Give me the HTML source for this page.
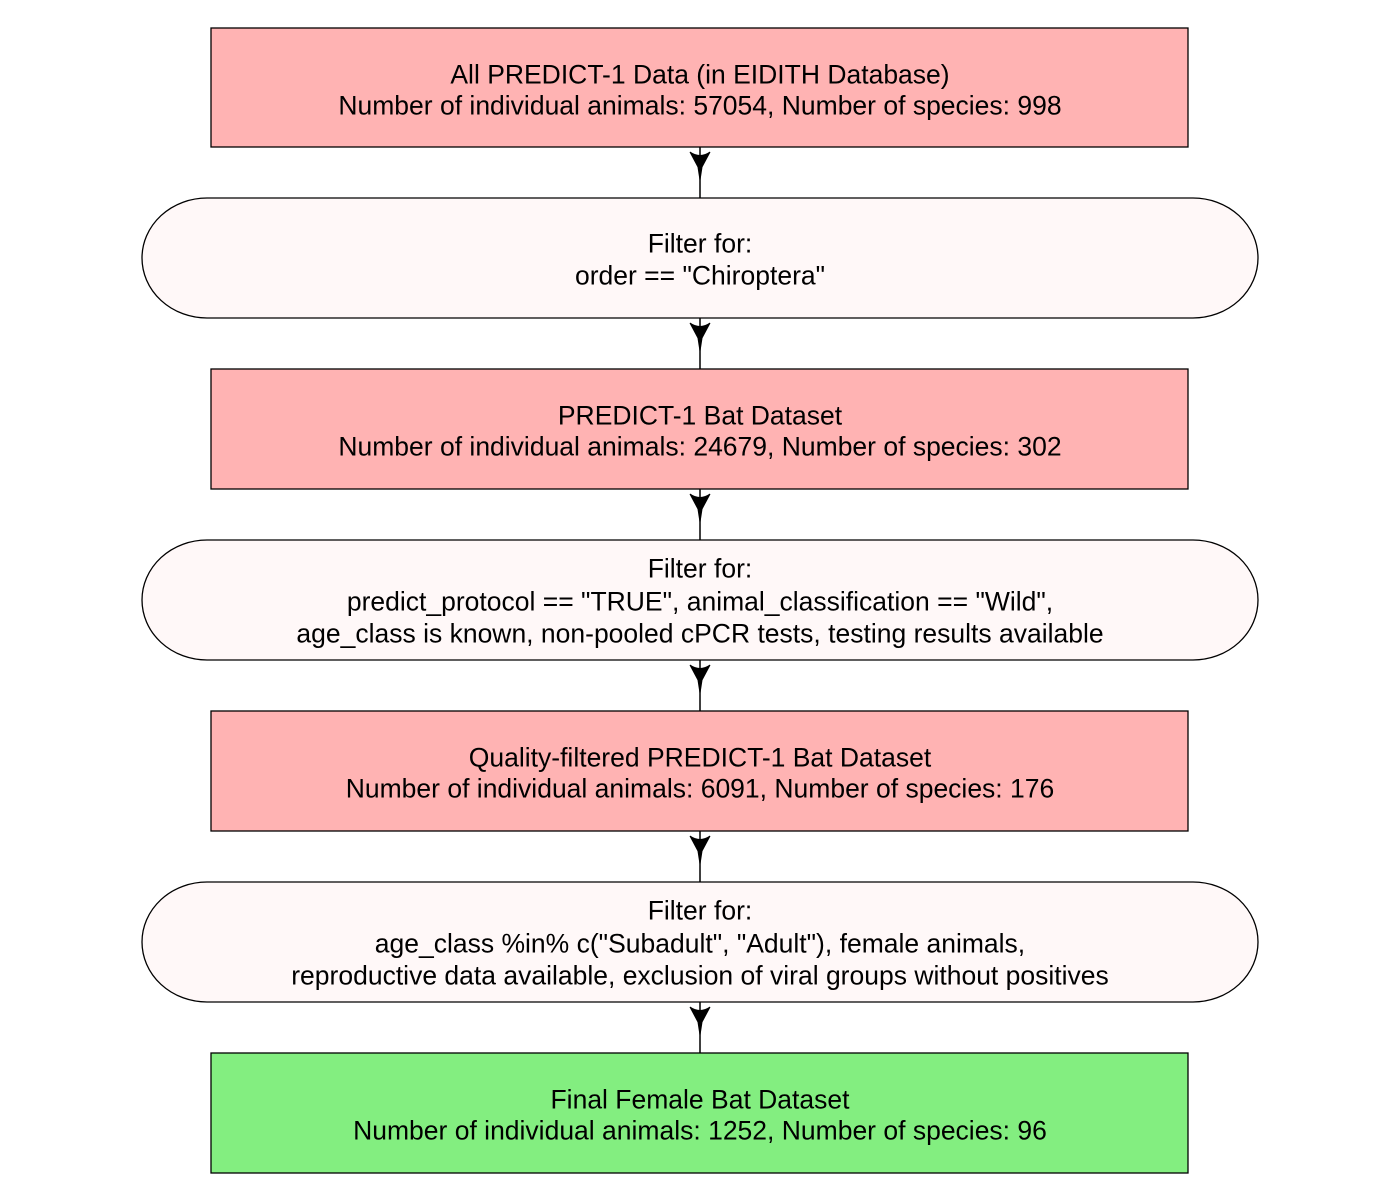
<!DOCTYPE html>
<html><head><meta charset="utf-8"><style>
html,body{margin:0;padding:0;background:#fff;}
svg{display:block;}
text{font-family:"Liberation Sans",Arial,sans-serif;font-size:26.5px;fill:#000;text-anchor:middle;}
</style></head><body>
<svg width="1400" height="1200" viewBox="0 0 1400 1200" xmlns="http://www.w3.org/2000/svg">
<defs>
<g id="arr">
<line x1="700" y1="0" x2="700" y2="51" stroke="#000" stroke-width="1.5"/>
<path d="M690,5 Q700,12 710,5 L702,20 L700,33 L698,20 Z" fill="#000" stroke="#000" stroke-width="1"/>
</g>
</defs>
<rect x="211" y="28" width="977" height="119" fill="#FFB3B3" stroke="#000" stroke-width="1.3"/>
<text x="700" y="83.5">All PREDICT-1 Data (in EIDITH Database)</text>
<text x="700" y="114.5">Number of individual animals: 57054, Number of species: 998</text>
<use href="#arr" y="147"/>
<rect x="142" y="198" width="1116" height="120" rx="65" ry="60" fill="#FFF8F8" stroke="#000" stroke-width="1.3"/>
<text x="700" y="252.5">Filter for:</text>
<text x="700" y="284.5">order == "Chiroptera"</text>
<use href="#arr" y="318"/>
<rect x="211" y="369" width="977" height="120" fill="#FFB3B3" stroke="#000" stroke-width="1.3"/>
<text x="700" y="424.5">PREDICT-1 Bat Dataset</text>
<text x="700" y="455.5">Number of individual animals: 24679, Number of species: 302</text>
<use href="#arr" y="489"/>
<rect x="142" y="540" width="1116" height="120" rx="65" ry="60" fill="#FFF8F8" stroke="#000" stroke-width="1.3"/>
<text x="700" y="577.5">Filter for:</text>
<text x="700" y="610.5">predict_protocol == "TRUE", animal_classification == "Wild",</text>
<text x="700" y="642.5">age_class is known, non-pooled cPCR tests, testing results available</text>
<use href="#arr" y="660"/>
<rect x="211" y="711" width="977" height="120" fill="#FFB3B3" stroke="#000" stroke-width="1.3"/>
<text x="700" y="766.5">Quality-filtered PREDICT-1 Bat Dataset</text>
<text x="700" y="797.5">Number of individual animals: 6091, Number of species: 176</text>
<use href="#arr" y="831"/>
<rect x="142" y="882" width="1116" height="120" rx="65" ry="60" fill="#FFF8F8" stroke="#000" stroke-width="1.3"/>
<text x="700" y="919.5">Filter for:</text>
<text x="700" y="952.5">age_class %in% c("Subadult", "Adult"), female animals,</text>
<text x="700" y="984.5">reproductive data available, exclusion of viral groups without positives</text>
<use href="#arr" y="1002"/>
<rect x="211" y="1053" width="977" height="120" fill="#83EE80" stroke="#000" stroke-width="1.3"/>
<text x="700" y="1108.5">Final Female Bat Dataset</text>
<text x="700" y="1139.5">Number of individual animals: 1252, Number of species: 96</text>
</svg>
</body></html>
